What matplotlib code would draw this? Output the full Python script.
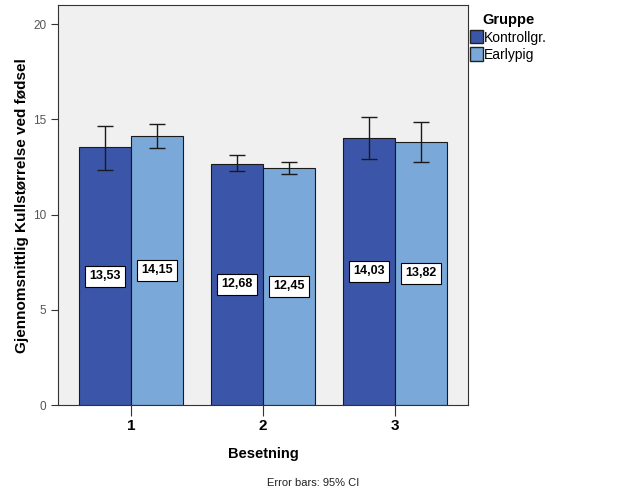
import numpy as np
import matplotlib
matplotlib.use('Agg')
from matplotlib import pyplot as plt
from matplotlib.patches import Patch

plt.rcParams['font.family'] = ['Liberation Sans', 'DejaVu Sans']

categories = ['1', '2', '3']
groups = ['Kontrollgr.', 'Earlypig']
means = [[13.53, 12.68, 14.03],
         [14.15, 12.45, 13.82]]
ci_low = [[12.37, 12.28, 12.91],
          [13.52, 12.13, 12.77]]
ci_high = [[14.66, 13.13, 15.13],
           [14.75, 12.77, 14.85]]
labels = [['13,53', '12,68', '14,03'],
          ['14,15', '12,45', '13,82']]
colors = ['#3B56A8', '#7AA8D8']

fig = plt.figure(figsize=(6.26, 5.01), dpi=100)
ax = fig.add_axes([0.0927, 0.1916, 0.655, 0.798])
ax.set_facecolor('#F0F0F0')

x = np.arange(1, len(categories) + 1)
w = 0.394
for g in range(2):
    xs = x + (g - 0.5) * w
    m = np.array(means[g])
    err = [m - np.array(ci_low[g]), np.array(ci_high[g]) - m]
    ax.bar(xs, m, width=w, color=colors[g], edgecolor='#1a1a1a', linewidth=0.8, zorder=2)
    ax.errorbar(xs, m, yerr=err, fmt='none', ecolor='#1a1a1a', elinewidth=1,
                capsize=6, capthick=1, zorder=3)
    for xi, mi, lab in zip(xs, m, labels[g]):
        ax.text(xi, mi / 2, lab, ha='center', va='center', fontsize=9, fontweight='bold',
                bbox=dict(boxstyle='square,pad=0.35', fc='white', ec='black', lw=0.8), zorder=4)

ax.set_xlim(1 - 0.553, 3 + 0.553)
ax.set_ylim(0, 21)
ax.set_yticks([0, 5, 10, 15, 20])
ax.set_xticks(x)
ax.set_xticklabels(categories, fontsize=11, fontweight='bold')
ax.tick_params(axis='y', labelsize=8.5, labelcolor='#555555', length=5, color='#333333')
ax.tick_params(axis='x', length=8, color='#333333', pad=2)
for s in ax.spines.values():
    s.set_color('#333333')
    s.set_linewidth(0.8)

ax.set_ylabel('Gjennomsnittlig Kullstørrelse ved fødsel', fontsize=11, fontweight='bold', labelpad=3)
ax.set_xlabel('Besetning', fontsize=10.5, fontweight='bold', labelpad=10)
fig.text(0.5, 0.036, 'Error bars: 95% CI', ha='center', va='center', fontsize=8, color='#222222')

handles = [Patch(facecolor=c, edgecolor='#222222', label=l) for c, l in zip(colors, groups)]
leg = fig.legend(handles=handles, loc='upper left', bbox_to_anchor=(0.738, 0.99), frameon=False,
                 title='Gruppe', fontsize=10, handlelength=0.9, handleheight=1.1,
                 handletextpad=0.1, labelspacing=0.2, borderaxespad=0.2)
leg.get_title().set_fontweight('bold')
leg.get_title().set_fontsize(10.5)

fig.savefig('out.png', dpi=100)
